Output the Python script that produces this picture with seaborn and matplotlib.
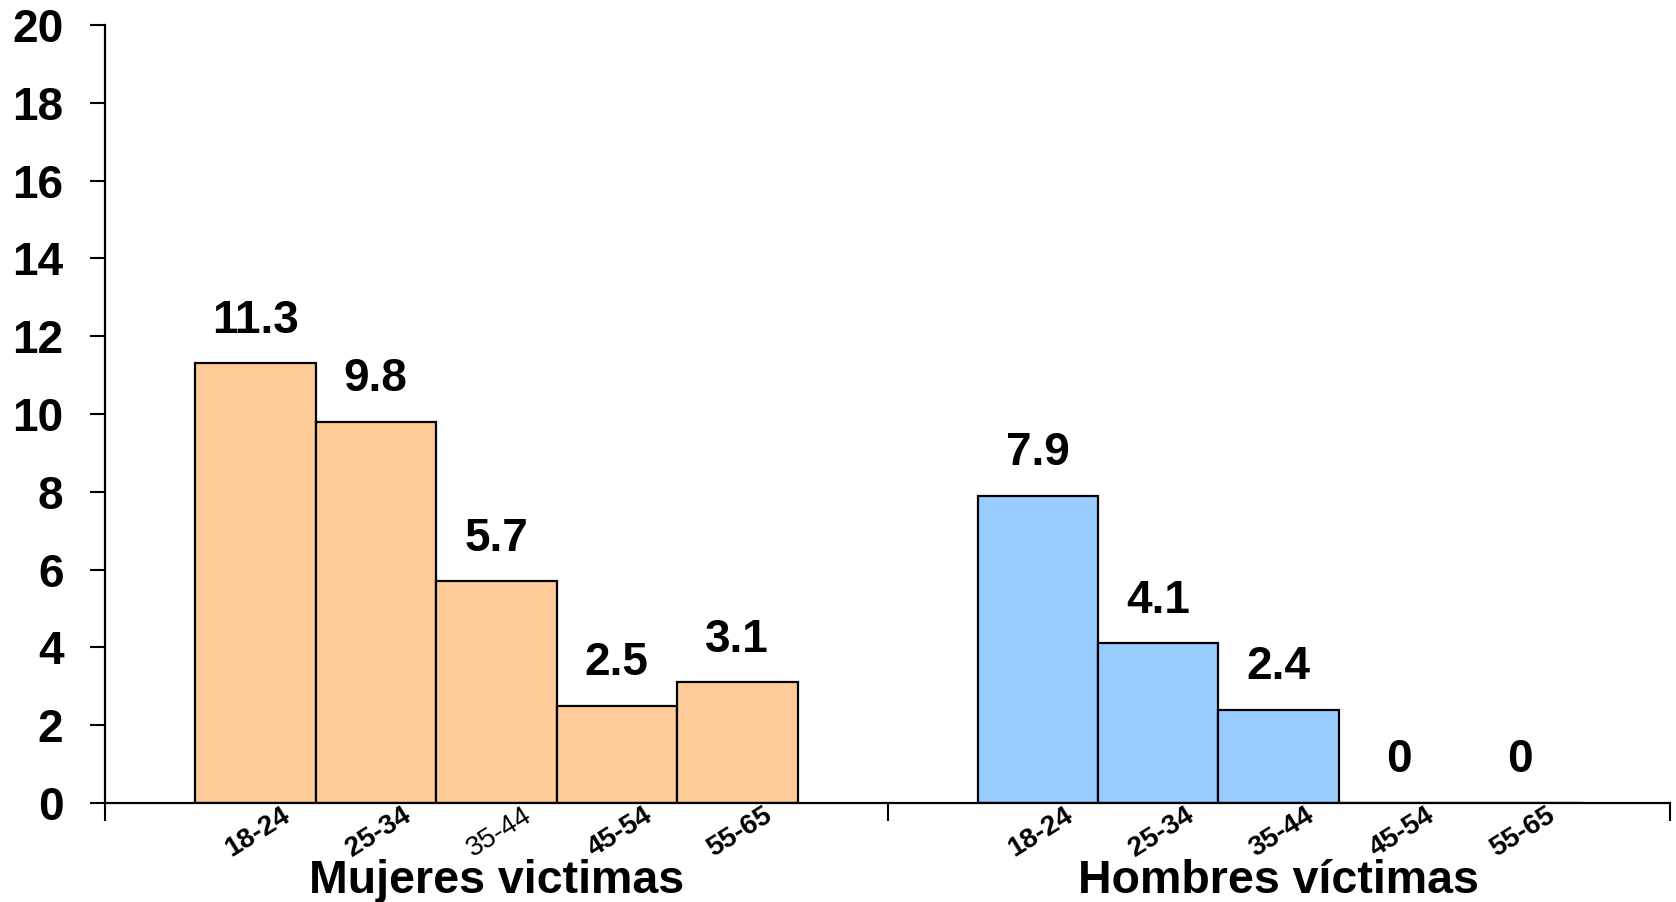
import pandas as pd
import matplotlib.pyplot as plt
import seaborn as sns

# Chart data
grupos = ["Mujeres victimas", "Hombres víctimas"]
edades = ["18-24", "25-34", "35-44", "45-54", "55-65"]
mujeres = [11.3, 9.8, 5.7, 2.5, 3.1]
hombres = [7.9, 4.1, 2.4, 0, 0]
colores = ["#FFCC99", "#99CCFF"]
y_ticks = list(range(0, 21, 2))

rows = []
for grupo, valores in zip(grupos, [mujeres, hombres]):
    for edad, v in zip(edades, valores):
        rows.append({"grupo": grupo, "edad": edad, "valor": v})
df = pd.DataFrame(rows)

sns.set_style("ticks")
plt.rcParams["font.family"] = ["Liberation Sans", "DejaVu Sans"]
plt.rcParams["font.weight"] = "bold"
plt.rcParams["text.color"] = "black"
plt.rcParams["xtick.color"] = "black"
plt.rcParams["ytick.color"] = "black"

fig = plt.figure(figsize=(16.76, 9.02), dpi=100)
ax = fig.add_axes([0.0627, 0.1098, 0.9337, 0.8625])

sns.barplot(data=df, x="grupo", y="valor", hue="edad", order=grupos,
            hue_order=edades, width=0.77, dodge=True, legend=False,
            palette=["#FFCC99"] * 5, edgecolor="black", linewidth=1.6,
            errorbar=None, ax=ax)

# colour bars by group and add value labels
for p in ax.patches:
    cx = p.get_x() + p.get_width() / 2
    gi = 0 if cx < 0.5 else 1
    p.set_facecolor(colores[gi])
    h = p.get_height()
    ax.annotate(f"{h:g}", (cx, h), xytext=(0, 22), textcoords="offset points",
                ha="center", va="baseline", fontsize=33, fontweight="bold",
                color="black")

# age labels under each bar and group names
for gi, grupo in enumerate(grupos):
    centros = sorted(p.get_x() + p.get_width() / 2 for p in ax.patches
                     if (p.get_x() + p.get_width() / 2 < 0.5) == (gi == 0))
    for cx, edad in zip(centros, edades):
        peso = "normal" if (gi == 0 and edad == "35-44") else "bold"
        ax.annotate(edad, (cx, 0), xytext=(2, -21), textcoords="offset points",
                    ha="center", va="center", rotation=32, rotation_mode="anchor",
                    fontsize=20, fontweight=peso, color="black")
    ax.annotate(grupo, (gi, 0), xytext=(0, -65), textcoords="offset points",
                ha="center", va="baseline", fontsize=33.5, fontweight="bold",
                color="black", annotation_clip=False)

ax.set_xlim(-0.5, 1.5)
ax.set_ylim(0, 20)
ax.set_yticks(y_ticks)
ax.set_yticklabels([str(t) for t in y_ticks], fontsize=33, fontweight="bold")
ax.set_xticks([-0.5, 0.5, 1.5])
ax.set_xticklabels(["", "", ""])
ax.tick_params(axis="y", direction="out", length=11, width=1.5, pad=19, colors="black")
ax.tick_params(axis="x", direction="out", length=13, width=1.5, colors="black")
ax.set_xlabel("")
ax.set_ylabel("")
for s in ["top", "right"]:
    ax.spines[s].set_visible(False)
for s in ["left", "bottom"]:
    ax.spines[s].set_linewidth(1.6)
    ax.spines[s].set_color("black")

plt.savefig("out.png", dpi=100)
plt.close()
